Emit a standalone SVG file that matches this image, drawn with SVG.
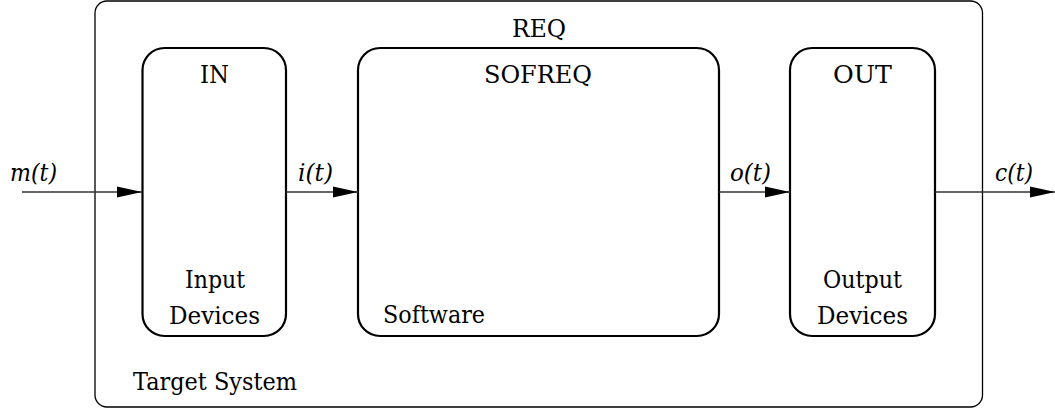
<svg xmlns="http://www.w3.org/2000/svg" width="1055" height="411" viewBox="0 0 1055 411">
<style>
.box{fill:none;stroke:#000;stroke-width:2.2}
.outer{fill:none;stroke:#000;stroke-width:1.3}
text{font-family:'DejaVu Serif','Liberation Serif',serif;font-size:24px;fill:#000}
.i{font-style:italic}
.c{text-anchor:middle}
.conn{stroke:#333;stroke-width:1.6;fill:none;marker-end:url(#ah)}
</style>
<defs>
<marker id="ah" markerUnits="userSpaceOnUse" markerWidth="26" markerHeight="12" refX="25" refY="6" orient="auto">
<path d="M0,0.5 L25,6 L0,11.5 Z" fill="#000"/>
</marker>
</defs>
<rect width="1055" height="411" fill="#fff"/>
<g id="target">
<rect class="outer" x="95" y="1" width="887.5" height="406" rx="12"/>
<text class="c" x="539" y="37" textLength="54" lengthAdjust="spacingAndGlyphs">REQ</text>
<text x="133" y="390" textLength="164" lengthAdjust="spacingAndGlyphs">Target System</text>
</g>
<g id="in">
<rect class="box" x="142.5" y="48" width="143.5" height="288" rx="22"/>
<text class="c" x="214.5" y="83" textLength="29" lengthAdjust="spacingAndGlyphs">IN</text>
<text class="c" x="215" y="288" textLength="60" lengthAdjust="spacingAndGlyphs">Input</text>
<text class="c" x="214.5" y="324" textLength="91" lengthAdjust="spacingAndGlyphs">Devices</text>
</g>
<g id="sofreq">
<rect class="box" x="358" y="48" width="361" height="288" rx="22"/>
<text class="c" x="538" y="83" textLength="108" lengthAdjust="spacingAndGlyphs">SOFREQ</text>
<text x="383" y="323" textLength="102" lengthAdjust="spacingAndGlyphs">Software</text>
</g>
<g id="out">
<rect class="box" x="790" y="48" width="145" height="288" rx="22"/>
<text class="c" x="862.5" y="83" textLength="59" lengthAdjust="spacingAndGlyphs">OUT</text>
<text class="c" x="862.5" y="288" textLength="79" lengthAdjust="spacingAndGlyphs">Output</text>
<text class="c" x="862.5" y="324" textLength="91" lengthAdjust="spacingAndGlyphs">Devices</text>
</g>
<g id="connectors">
<line class="conn" x1="22" y1="192" x2="142" y2="192"/>
<line class="conn" x1="286" y1="192" x2="358" y2="192"/>
<line class="conn" x1="719" y1="192" x2="790" y2="192"/>
<line class="conn" x1="935" y1="192" x2="1055" y2="192"/>
<text class="i" x="10" y="181" textLength="47" lengthAdjust="spacingAndGlyphs">m(t)</text>
<text class="i" x="298" y="181" textLength="35" lengthAdjust="spacingAndGlyphs">i(t)</text>
<text class="i" x="730" y="181" textLength="41" lengthAdjust="spacingAndGlyphs">o(t)</text>
<text class="i" x="995" y="181" textLength="38" lengthAdjust="spacingAndGlyphs">c(t)</text>
</g>
</svg>
